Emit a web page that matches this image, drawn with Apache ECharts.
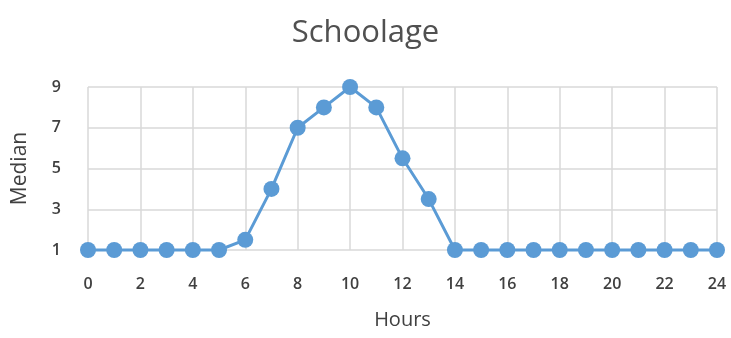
<!DOCTYPE html>
<html>
<head>
<meta charset="utf-8">
<script src="https://cdn.jsdelivr.net/npm/echarts@6/dist/echarts.min.js"></script>
<style>
  html, body { margin: 0; padding: 0; background: #fff; }
  #chart { width: 731px; height: 338px; }
</style>
</head>
<body>
<div id="chart"></div>
<script>
// Median value per hour of day
const hours = [0, 1, 2, 3, 4, 5, 6, 7, 8, 9, 10, 11, 12, 13, 14, 15, 16, 17, 18, 19, 20, 21, 22, 23, 24];
const median = [1, 1, 1, 1, 1, 1, 1.5, 4, 7, 8, 9, 8, 5.5, 3.5, 1, 1, 1, 1, 1, 1, 1, 1, 1, 1, 1];
const yTicks = [1, 3, 5, 7, 9];

const chart = echarts.init(document.getElementById('chart'));
const textColor = '#404040';
const font = '"Open Sans", "Liberation Sans", sans-serif';

chart.setOption({
  animation: false,
  title: {
    text: 'Schoolage',
    left: 'center',
    top: 13,
    textStyle: { fontFamily: font, fontSize: 31, fontWeight: 500, color: '#505050' }
  },
  grid: { left: 88, right: 14, top: 87, bottom: 88 },
  xAxis: {
    type: 'value',
    min: hours[0],
    max: hours[hours.length - 1],
    interval: 2,
    name: 'Hours',
    nameLocation: 'middle',
    nameGap: 60,
    nameTextStyle: { fontFamily: font, fontSize: 20, fontWeight: 500, color: textColor },
    axisLine: { show: false },
    axisTick: { show: false },
    axisLabel: { margin: 26, fontFamily: font, fontSize: 16, fontWeight: 600, color: textColor },
    splitLine: { show: true, lineStyle: { color: '#d9d9d9', width: 1.5 } }
  },
  yAxis: {
    type: 'value',
    min: yTicks[0],
    max: yTicks[yTicks.length - 1],
    interval: yTicks[1] - yTicks[0],
    name: 'Median',
    nameLocation: 'middle',
    nameRotate: 90,
    nameGap: 57,
    nameTextStyle: { fontFamily: font, fontSize: 21, fontWeight: 500, color: textColor },
    axisLine: { show: false },
    axisTick: { show: false },
    axisLabel: { margin: 27, fontFamily: font, fontSize: 16, fontWeight: 600, color: textColor },
    splitLine: { show: true, lineStyle: { color: '#d9d9d9', width: 1.5 } }
  },
  series: [{
    type: 'line',
    data: hours.map((h, i) => [h, median[i]]),
    symbol: 'circle',
    symbolSize: 16,
    lineStyle: { color: '#5b9bd5', width: 3 },
    itemStyle: { color: '#5b9bd5' },
    clip: false
  }]
});
</script>
</body>
</html>
